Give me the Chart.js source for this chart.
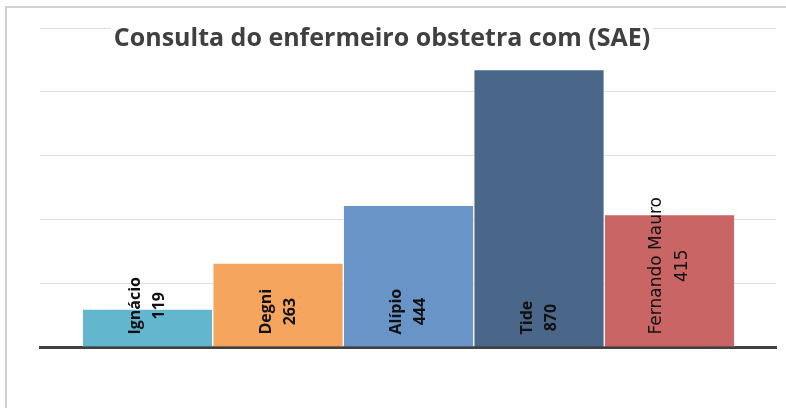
<!DOCTYPE html>
<html><head><meta charset="utf-8">
<script src="https://cdn.jsdelivr.net/npm/chart.js@4"></script>
<style>html,body{margin:0;padding:0;background:#fff;overflow:hidden}#wrap{width:786px;height:408px;position:relative}</style>
</head><body><div id="wrap"><canvas id="c" width="786" height="408"></canvas></div>
<script>
const chartTitle = 'Consulta do enfermeiro obstetra com (SAE)';
const categories = ['Ignácio', 'Degni', 'Alípio', 'Tide', 'Fernando Mauro'];
const values = [119, 263, 444, 870, 415];
const yMin = 0, yMax = 1000, yStep = 200;

const barColors = ['#62B6CD', '#F6A55E', '#6894C8', '#4A6689', '#C96565'];
const labelFonts = ['bold 16px "Open Sans"', 'bold 16px "Open Sans"', 'bold 16px "Open Sans"', 'bold 16px "Open Sans"', '17px "DejaVu Sans"'];
const labelLineGap = [24, 24, 24, 24, 26];

const frame = {
  id: 'frame',
  beforeDraw(chart) {
    const ctx = chart.ctx;
    ctx.save();
    ctx.fillStyle = '#fff';
    ctx.fillRect(0, 0, chart.width, chart.height);
    ctx.fillStyle = '#d2d2d2';
    ctx.fillRect(5, 6, 2, chart.height - 6);
    ctx.fillRect(5, 6, chart.width - 5, 2);
    ctx.restore();
  }
};

const barLabels = {
  id: 'barLabels',
  afterDatasetsDraw(chart) {
    const ctx = chart.ctx;
    const meta = chart.getDatasetMeta(0);
    meta.data.forEach((bar, i) => {
      const lines = [categories[i], String(values[i])];
      ctx.save();
      ctx.font = labelFonts[i];
      const blockW = Math.max(...lines.map(l => ctx.measureText(l).width));
      ctx.translate(bar.x, bar.base - 12);
      ctx.rotate(-Math.PI / 2);
      ctx.fillStyle = '#111';
      ctx.textAlign = 'center';
      ctx.textBaseline = 'middle';
      const g = labelLineGap[i];
      ctx.fillText(lines[0], blockW / 2, -g / 2);
      ctx.fillText(lines[1], blockW / 2, g / 2);
      ctx.restore();
    });
  }
};

const titlePlugin = {
  id: 'titleOverlay',
  afterDraw(chart) {
    const ctx = chart.ctx;
    ctx.save();
    ctx.font = 'bold 25px "Open Sans"';
    const w = ctx.measureText(chartTitle).width;
    const cx = 382;
    ctx.fillStyle = '#fff';
    ctx.fillRect(cx - w / 2 - 3, 18, w + 6, 36);
    ctx.fillStyle = '#404040';
    ctx.textAlign = 'center';
    ctx.textBaseline = 'alphabetic';
    ctx.fillText(chartTitle, cx, 46);
    ctx.restore();
  }
};

new Chart(document.getElementById('c'), {
  type: 'bar',
  data: {
    datasets: [{
      data: categories.map((c, i) => ({ x: i, y: values[i] })),
      backgroundColor: barColors,
      borderColor: 'rgba(255,255,255,0.55)',
      borderWidth: 1,
      barPercentage: 1,
      categoryPercentage: 1
    }]
  },
  options: {
    responsive: false,
    animation: false,
    devicePixelRatio: 1,
    layout: { padding: { left: 40, right: 10, top: 28, bottom: 61 } },
    plugins: { legend: { display: false }, title: { display: false }, tooltip: { enabled: false } },
    scales: {
      x: {
        type: 'linear',
        offset: false,
        min: -0.824,
        max: 4.816,
        z: 1,
        afterBuildTicks: (scale) => { scale.ticks = categories.map((c, i) => ({ value: i })); },
        ticks: { display: false },
        grid: { display: false, drawTicks: false, offset: false },
        border: { display: true, color: '#404040', width: 3 }
      },
      y: {
        min: yMin,
        max: yMax,
        ticks: { display: false, stepSize: yStep },
        grid: { color: '#dedede', lineWidth: 1, drawTicks: false },
        border: { display: false }
      }
    }
  },
  plugins: [frame, barLabels, titlePlugin]
});
</script>
</body></html>
